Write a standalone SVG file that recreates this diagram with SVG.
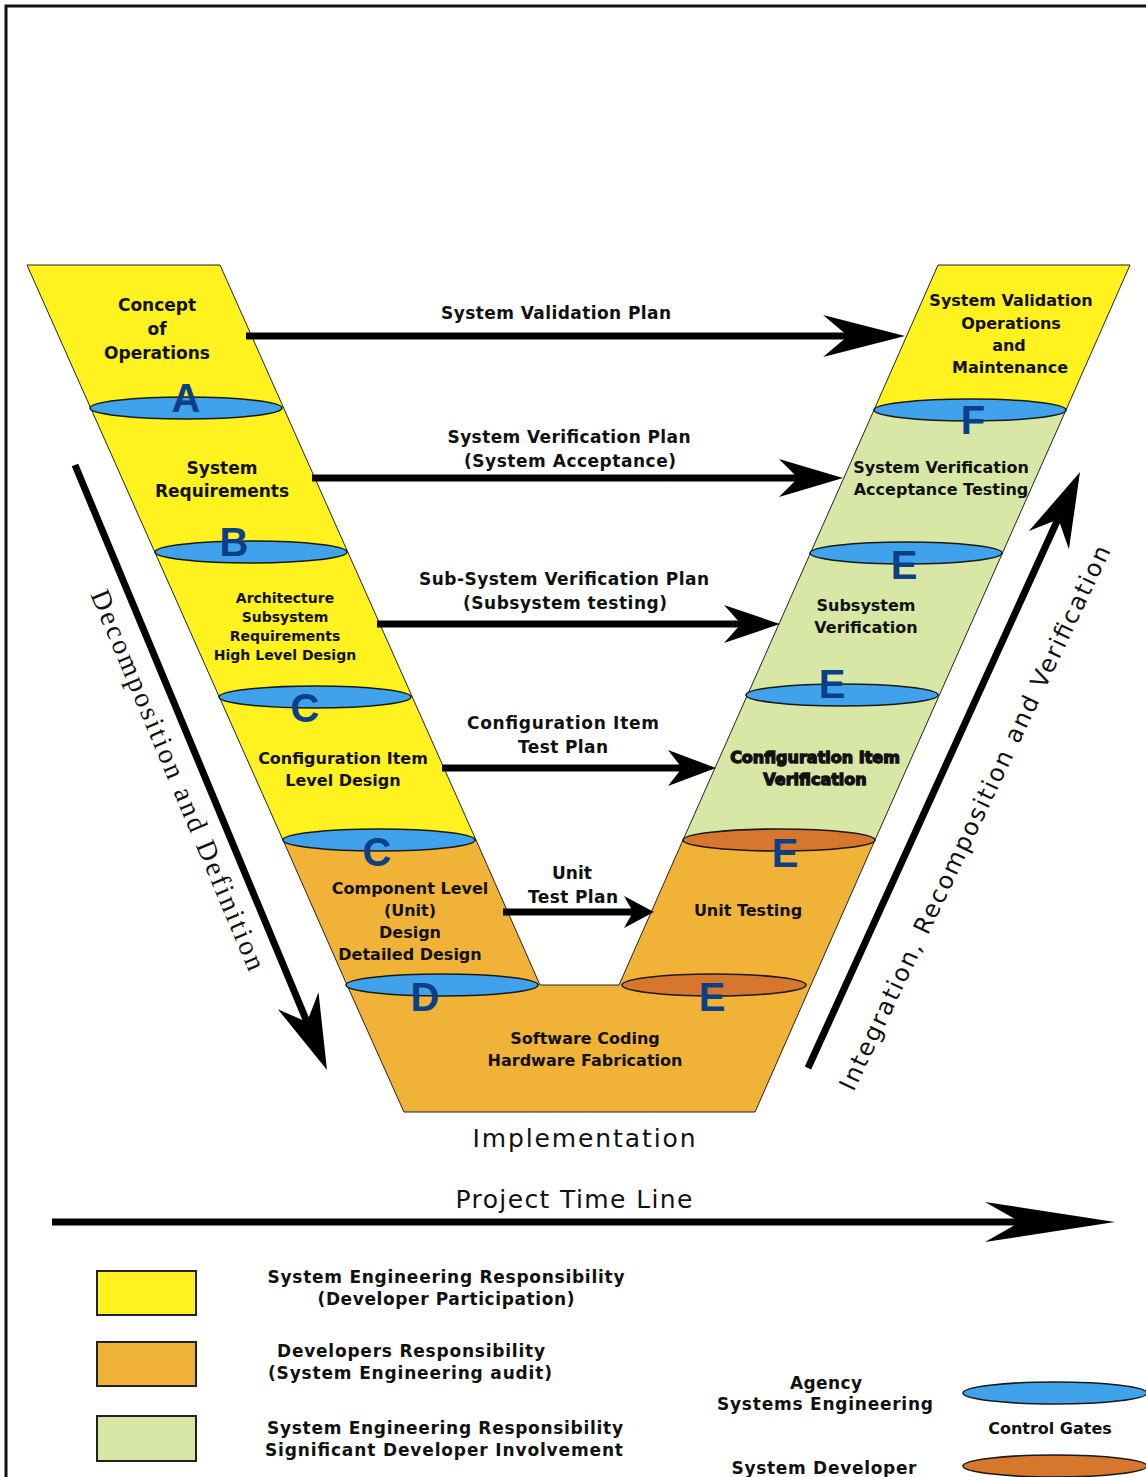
<svg xmlns="http://www.w3.org/2000/svg" width="1146" height="1477" viewBox="0 0 1146 1477">
<style>
.lbl{font-family:"DejaVu Sans",Verdana,sans-serif;font-weight:bold;font-size:17px;text-anchor:middle;fill:#111}
.sm{font-size:14px}
.md{font-size:16px}
.heavy{stroke:#111;stroke-width:1.3;font-weight:900}
.big{font-family:"DejaVu Sans",Verdana,sans-serif;font-size:25px;text-anchor:middle;fill:#111}
.ltr{font-family:"Liberation Sans",Arial,sans-serif;font-weight:bold;font-size:40px;fill:#0b3f86;text-anchor:middle}
.arm{stroke:#222;stroke-width:1}
.yel{fill:#fff21f}
.org{fill:#f0b338}
.grn{fill:#d8e7a6}
.gb{fill:#3fa2ea;stroke:#1a1a1a;stroke-width:1.6}
.go{fill:#d6772d;stroke:#1a1a1a;stroke-width:1.6}
.shaft{stroke:#000;stroke-width:7;fill:none}
.head{fill:#000}
</style>
<defs>
<path id="dhead" d="M0,0 L-75,-22 L-52,0 L-75,22 Z"/>
</defs>
<rect width="1146" height="1477" fill="#fff"/>
<path d="M6,1477 V6 H1146" fill="none" stroke="#111" stroke-width="3"/>

<g id="v-shape">
<polygon class="arm yel" points="27,265 220,265 476,840 283,840"/>
<polygon class="arm org" points="283,840 476,840 540,985 619,985 683,840 875,840 811,985 755,1112 404,1112 347,985"/>
<polygon class="arm yel" points="938,265 1130,265 1066,410 874,410"/>
<polygon class="arm grn" points="874,410 1066,410 875,840 683,840"/>
</g>

<g id="gates">
<ellipse class="gb" cx="186" cy="408" rx="96" ry="11"/>
<ellipse class="gb" cx="251" cy="552" rx="96" ry="11"/>
<ellipse class="gb" cx="315" cy="697" rx="96" ry="11"/>
<ellipse class="gb" cx="379" cy="840" rx="96" ry="11"/>
<ellipse class="gb" cx="442" cy="985" rx="96" ry="11"/>
<ellipse class="gb" cx="970" cy="410" rx="96" ry="11"/>
<ellipse class="gb" cx="906" cy="553" rx="96" ry="11"/>
<ellipse class="gb" cx="842" cy="695" rx="96" ry="11"/>
<ellipse class="go" cx="779" cy="840" rx="96" ry="11"/>
<ellipse class="go" cx="714" cy="985" rx="92" ry="11"/>
</g>

<g id="gate-letters">
<text class="ltr" x="186" y="412">A</text>
<text class="ltr" x="234" y="556">B</text>
<text class="ltr" x="305" y="722">C</text>
<text class="ltr" x="377" y="866">C</text>
<text class="ltr" x="425" y="1011">D</text>
<text class="ltr" x="973" y="434">F</text>
<text class="ltr" x="904" y="579">E</text>
<text class="ltr" x="832" y="698">E</text>
<text class="ltr" x="785" y="867">E</text>
<text class="ltr" x="712" y="1011">E</text>
</g>

<g id="node-concept"><text class="lbl" x="157" y="311">Concept</text><text class="lbl" x="157" y="335">of</text><text class="lbl" x="157" y="359">Operations</text></g>
<g id="node-sysreq"><text class="lbl" x="222" y="474">System</text><text class="lbl" x="222" y="497">Requirements</text></g>
<g id="node-arch"><text class="lbl sm" x="285" y="603">Architecture</text><text class="lbl sm" x="285" y="622">Subsystem</text><text class="lbl sm" x="285" y="641">Requirements</text><text class="lbl sm" x="285" y="660">High Level Design</text></g>
<g id="node-cidesign"><text class="lbl md" x="343" y="764">Configuration Item</text><text class="lbl md" x="343" y="786">Level Design</text></g>
<g id="node-component"><text class="lbl md" x="410" y="894">Component Level</text><text class="lbl md" x="410" y="916">(Unit)</text><text class="lbl md" x="410" y="938">Design</text><text class="lbl md" x="410" y="960">Detailed Design</text></g>
<g id="node-coding"><text class="lbl md" x="585" y="1044">Software Coding</text><text class="lbl md" x="585" y="1066">Hardware Fabrication</text></g>
<g id="node-unittest"><text class="lbl md" x="748" y="916">Unit Testing</text></g>
<g id="node-civer"><text class="lbl md heavy" x="815" y="763">Configuration Item</text><text class="lbl md heavy" x="815" y="785">Verification</text></g>
<g id="node-subver"><text class="lbl md" x="866" y="611">Subsystem</text><text class="lbl md" x="866" y="633">Verification</text></g>
<g id="node-sysver"><text class="lbl md" x="941" y="473">System Verification</text><text class="lbl md" x="941" y="495">Acceptance Testing</text></g>
<g id="node-sysval"><text class="lbl md" x="1011" y="306">System Validation</text><text class="lbl md" x="1011" y="329">Operations</text><text class="lbl md" x="1009" y="351">and</text><text class="lbl md" x="1010" y="373">Maintenance</text></g>

<g id="connectors">
<line class="shaft" x1="246" y1="336" x2="850" y2="336"/>
<path class="head" d="M905,336 L823,315 L848,336 L823,357 Z"/>
<line class="shaft" x1="312" y1="478" x2="800" y2="478"/>
<path class="head" d="M843,478 L779,459 L798,478 L779,497 Z"/>
<line class="shaft" x1="377" y1="624" x2="743" y2="624"/>
<path class="head" d="M780,624 L724,605 L741,624 L724,643 Z"/>
<line class="shaft" x1="442" y1="768" x2="684" y2="768"/>
<path class="head" d="M716,768 L668,750 L682,768 L668,786 Z"/>
<line class="shaft" x1="503" y1="912" x2="635" y2="912"/>
<path class="head" d="M654,912 L624,896 L633,912 L624,928 Z"/>
<line class="shaft" x1="52" y1="1222" x2="1022" y2="1222"/>
<path class="head" d="M1115,1222 L985,1202 L1020,1222 L985,1242 Z"/>
<line class="shaft" x1="75" y1="465" x2="307" y2="1022"/>
<use href="#dhead" class="head" transform="translate(327,1070) rotate(67.4)"/>
<line class="shaft" x1="808" y1="1068" x2="1058" y2="519"/>
<use href="#dhead" class="head" transform="translate(1080,472) rotate(-65.5)"/>
</g>

<g id="connector-labels">
<text class="lbl" x="556" y="319" textLength="230">System Validation Plan</text>
<text class="lbl" x="569" y="443" textLength="243">System Verification Plan</text>
<text class="lbl" x="570" y="467" textLength="212">(System Acceptance)</text>
<text class="lbl" x="564" y="585" textLength="290">Sub-System Verification Plan</text>
<text class="lbl" x="565" y="609" textLength="204">(Subsystem testing)</text>
<text class="lbl" x="563" y="729" textLength="192">Configuration Item</text>
<text class="lbl" x="563" y="753" textLength="90">Test Plan</text>
<text class="lbl" x="572" y="879">Unit</text>
<text class="lbl" x="573" y="903" textLength="90">Test Plan</text>
<text class="big" x="584" y="1147" textLength="223">Implementation</text>
<text class="big" x="574" y="1208" textLength="237">Project Time Line</text>
<text font-family="Liberation Serif,Times New Roman,serif" font-size="28" text-anchor="middle" fill="#111" transform="translate(178,780) rotate(67.2)" y="9" textLength="410">Decomposition and Definition</text>
<text font-family="DejaVu Sans,Verdana,sans-serif" font-size="24" text-anchor="middle" fill="#111" transform="translate(975,818) rotate(-64.6)" y="8" textLength="600">Integration, Recomposition and Verification</text>
</g>

<g id="legend">
<rect x="97" y="1271" width="99" height="44" class="yel" stroke="#222" stroke-width="2"/>
<rect x="97" y="1342" width="99" height="44" class="org" stroke="#222" stroke-width="2"/>
<rect x="97" y="1416" width="99" height="45" class="grn" stroke="#222" stroke-width="2"/>
<text class="lbl" x="446" y="1283" textLength="357">System Engineering Responsibility</text>
<text class="lbl" x="446" y="1305" textLength="257">(Developer Participation)</text>
<text class="lbl" x="411" y="1357" textLength="268">Developers Responsibility</text>
<text class="lbl" x="410" y="1379" textLength="284">(System Engineering audit)</text>
<text class="lbl" x="445" y="1434" textLength="356">System Engineering Responsibility</text>
<text class="lbl" x="444" y="1456" textLength="358">Significant Developer Involvement</text>
<text class="lbl" x="826" y="1389" textLength="72">Agency</text>
<text class="lbl" x="825" y="1410" textLength="216">Systems Engineering</text>
<text class="lbl" x="824" y="1474" textLength="185">System Developer</text>
<ellipse class="gb" cx="1055" cy="1393" rx="92" ry="11"/>
<text class="lbl md" x="1050" y="1434">Control Gates</text>
<ellipse class="go" cx="1055" cy="1466" rx="92" ry="11"/>
</g>
</svg>
